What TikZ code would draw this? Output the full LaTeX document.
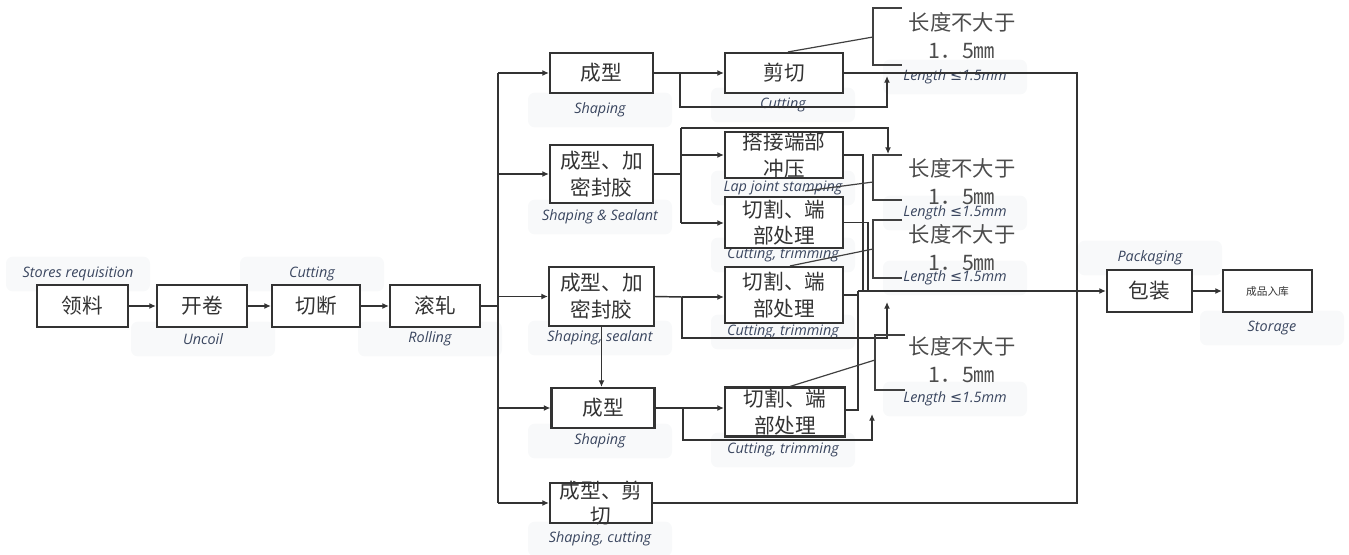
\documentclass[tikz,border=0pt]{standalone}
\usepackage{fontspec}
\setmainfont{Noto Sans CJK SC}
\newfontfamily\lab{Open Sans}
\newfontfamily\symf{DejaVu Sans}
\usetikzlibrary{arrows.meta,calc}
\definecolor{lbltext}{RGB}{58,70,95}
\definecolor{lblbg}{RGB}{248,249,250}
\begin{document}
\begin{tikzpicture}[x=0.75pt,y=-0.75pt,
  wh/.style 2 args={minimum width=#1*0.75pt,minimum height=#2*0.75pt},
  box/.style={draw=black!80,line width=1.6pt,fill=white,inner sep=0pt},
  txt/.style={align=center,inner sep=0pt,text=black!80,font=\fontsize{15.5}{20}\selectfont},
  lbl/.style={fill=lblbg,rounded corners=5pt,minimum width=108pt,minimum height=26pt,inner sep=1pt,font=\lab\itshape\fontsize{10.8}{12}\selectfont,text=lbltext},
  conn/.style={line width=1.1pt,draw=black!80},
  arr/.style={conn,-{Latex[length=5pt,width=4.5pt]}},
  call/.style={line width=0.9pt,draw=black!75},
  brk/.style={line width=1.2pt,draw=black!75},
  lim/.style={align=center,inner sep=0pt,text=black!70,font=\fontsize{16}{21}\selectfont},
]
\useasboundingbox (0,0) rectangle (1349,554);

% ---------- labels (faint backgrounds) ----------
\node[lbl] (l1) at (78,274) {Stores requisition};
\node[lbl] (l2) at (203,339) {Uncoil};
\node[lbl] (l3) at (312,274) {Cutting};
\node[lbl] (l4) at (430,339) {Rolling};
\node[lbl] (l5) at (600,110) {Shaping};
\node[lbl] (l6) at (600,217) {Shaping \& Sealant};
\node[lbl] (l7) at (600,338) {Shaping, sealant};
\node[lbl] (l8) at (600,441) {Shaping};
\node[lbl] (l9) at (600,539) {Shaping, cutting};
\node[lbl] (l10) at (783,105) {Cutting};
\node[lbl] (l11) at (783,188) {Lap joint stamping};
\node[lbl] (l12) at (783,255) {Cutting, trimming};
\node[lbl] (l13) at (783,332) {Cutting, trimming};
\node[lbl] (l14) at (783,450) {Cutting, trimming};
\node[lbl] (l15) at (955,77) {Length {\symf ≤}1.5mm};
\node[lbl] (l16) at (955,213) {Length {\symf ≤}1.5mm};
\node[lbl] (l17) at (955,278) {Length {\symf ≤}1.5mm};
\node[lbl] (l18) at (955,399) {Length {\symf ≤}1.5mm};
\node[lbl] (l19) at (1150,258) {Packaging};
\node[lbl] (l20) at (1272,328) {Storage};

% ---------- boxes ----------
\node[box,wh={91}{42}] (ll) at (82.5,306) {};
\node[box,wh={90}{42}] (kj) at (202,306) {};
\node[box,wh={88}{42}] (qd) at (316,306) {};
\node[box,wh={90}{42}] (gz) at (435,306) {};
\node[box,wh={103}{40}] (sa) at (601.5,73) {};
\node[box,wh={103}{58}] (sb) at (601.5,174) {};
\node[box,wh={105}{59}] (sc) at (601.5,296.5) {};
\node[box,wh={103}{40}] (sd) at (603,408) {};
\node[box,wh={102}{40}] (se) at (601,503) {};
\node[box,wh={118}{40}] (jq) at (784,73) {};
\node[box,wh={118}{46}] (dj) at (784,155) {};
\node[box,wh={118}{51}] (ga) at (784,222.5) {};
\node[box,wh={118}{56}] (gb) at (784,295) {};
\node[box,wh={120}{49}] (gc) at (785,412) {};
\node[box,wh={85}{42}] (bz) at (1149.5,291) {};
\node[box,wh={89}{42}] (cp) at (1267.5,291) {};

% ---------- connectors ----------
\draw[arr] (ll) -- (kj);
\draw[arr] (kj) -- (qd);
\draw[arr] (qd) -- (gz);
\coordinate (b0) at (498,306);
\coordinate (btop) at (498,73);
\coordinate (bbot) at (498,503);
\draw[conn] (gz.east) -- (b0);
\draw[conn] (btop) -- (bbot);
\draw[arr] (btop) -- (sa.west);
\draw[arr] (b0 |- sb.west) -- (sb.west);
\draw[arr] (b0 |- sc.west) -- (sc.west);
\draw[arr] (b0 |- sd.west) -- (sd.west);
\draw[arr] (bbot) -- (se.west);

% top group
\coordinate (ja) at (680,73);
\coordinate (ua) at (887,107);
\coordinate (ta) at (887,76);
\coordinate (ra) at (1077,73);
\coordinate (rb) at (1077,503);
\draw[conn] (sa.east) -- (ja);
\draw[arr] (ja) -- (jq.west);
\draw[arr] (ja) |- (ua) -- (ta);
\draw[conn] (jq.east) -- (ra) -- (rb) -- (se.east);

% main line to packaging
\coordinate (mj) at (858,291);
\coordinate (md) at (863,291);
\coordinate (ma) at (868,291);
\draw[arr] (mj) -- (bz.west);
\draw[arr] (bz) -- (cp);

% group 2
\coordinate (jb) at (681,174);
\coordinate (jbt) at (681,128);
\coordinate (jbb) at (681,223);
\coordinate (tb) at (888,154);
\draw[conn] (sb.east) -- (jb);
\draw[conn] (jbt) -- (jbb);
\draw[arr] (jbt |- dj.west) -- (dj.west);
\draw[arr] (jbb) -- (jbb -| ga.west);
\draw[arr] (jbt) -| (tb);
\draw[conn] (dj.east) -| (md);
\draw[conn] (ga.east) -| (ma);

% group 3
\coordinate (jc) at (682,297);
\coordinate (ub) at (887,338);
\coordinate (tc) at (887,302);
\draw[conn] (sc.east) -- (jc);
\draw[arr] (jc) -- (jc -| gb.west);
\draw[arr] (jc) |- (ub) -- (tc);
\draw[conn] (gb.east) -| (mj);
\draw[arr] (sc.south) -- (sc.south |- sd.north);

% group 4
\coordinate (jd) at (683,408);
\coordinate (ud) at (872,440);
\coordinate (td) at (872,414);
\draw[conn] (sd.east) -- (jd);
\draw[arr] (jd) -- (jd -| gc.west);
\draw[arr] (jd) |- (ud) -- (td);
\draw[conn] (gc.east |- 0,410) -| (mj);

% ---------- box texts ----------
\node[txt] (tll) at (ll) {领料};
\node[txt] (tkj) at (kj) {开卷};
\node[txt] (tqd) at (qd) {切断};
\node[txt] (tgz) at (gz) {滚轧};
\node[txt] (tsa) at (sa) {成型};
\node[txt] (tsb) at (sb) {成型、加\\密封胶};
\node[txt] (tsc) at (sc) {成型、加\\密封胶};
\node[txt] (tsd) at (sd) {成型};
\node[txt,font=\fontsize{15.5}{19}\selectfont] (tse) at (se) {成型、剪\\切};
\node[txt] (tjq) at (jq) {剪切};
\node[txt] (tdj) at (dj) {搭接端部\\冲压};
\node[txt] (tga) at (ga) {切割、端\\部处理};
\node[txt] (tgb) at (gb) {切割、端\\部处理};
\node[txt] (tgc) at (gc) {切割、端\\部处理};
\node[txt] (tbz) at (bz) {包装};
\node[txt,font=\fontsize{8}{10}\selectfont] (tcp) at (cp) {成品入库};

% ---------- limit brackets ----------
\draw[brk] (902,8) -| (873,65) -- (902,65);
\draw[brk] (902,155) -| (873,200) -- (902,200);
\draw[brk] (902,220) -| (873,278) -- (902,278);
\draw[brk] (905,335) -| (875,390) -- (905,390);
\node[lim] (L1) at (962,36) {长度不大于\\1．5㎜};
\node[lim] (L2) at (962,182) {长度不大于\\1．5㎜};
\node[lim] (L3) at (962,248) {长度不大于\\1．5㎜};
\node[lim] (L4) at (962,360) {长度不大于\\1．5㎜};
\coordinate (c1) at (873,37);
\coordinate (c2) at (873,182);
\coordinate (c2s) at (805,191);
\coordinate (c3) at (873,249);
\coordinate (c4) at (875,360);
\draw[call] ($(jq.north)+(4,0)$) -- (c1);
\draw[call] (c2s) -- (c2);
\draw[call] ($(gb.north)+(6,0)$) -- (c3);
\draw[call] ($(gc.north)+(5,0)$) -- (c4);
\end{tikzpicture}
\end{document}
